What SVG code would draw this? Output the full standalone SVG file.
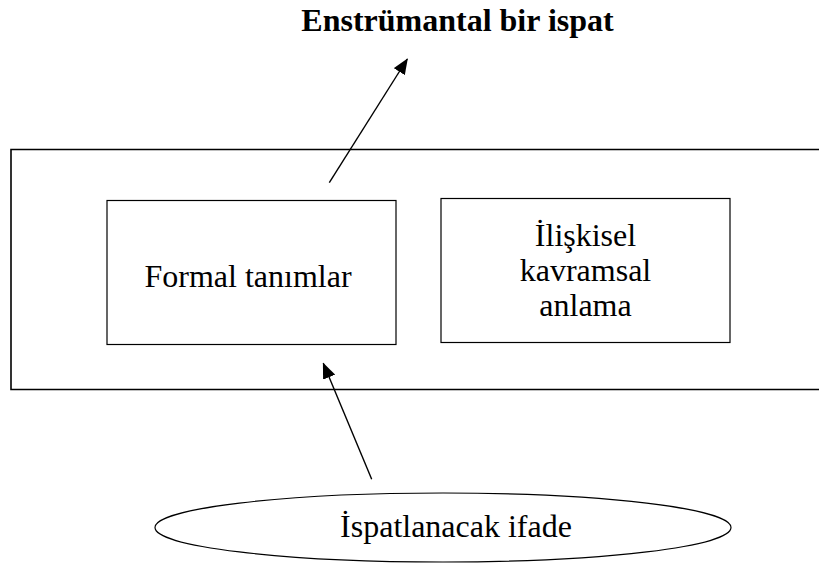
<svg xmlns="http://www.w3.org/2000/svg" width="819" height="566" viewBox="0 0 819 566">
  <style>
    .box { fill: #ffffff; stroke: #000000; stroke-width: 1.2; }
    .outer { fill: none; stroke: #000000; stroke-width: 1.6; }
    .lbl { font-family: "Liberation Serif", "Times New Roman", serif; font-size: 32px; fill: #000000; text-anchor: middle; }
    .title { font-weight: bold; }
    .conn { stroke: #000000; stroke-width: 1.4; fill: none; marker-end: url(#arrow); }
  </style>
  <defs>
    <marker id="arrow" markerUnits="userSpaceOnUse" markerWidth="16" markerHeight="13" viewBox="0 0 16 13" refX="15" refY="6.5" orient="auto">
      <path d="M0,0 L16,6.5 L0,13 z" fill="#000000"/>
    </marker>
  </defs>
  <rect width="819" height="566" fill="#ffffff"/>

  <g id="title">
    <text class="lbl title" x="457.5" y="31">Enstrümantal bir ispat</text>
  </g>

  <g id="container">
    <path class="outer" d="M830,149.5 H11 V389.5 H830"/>
  </g>

  <g id="formal">
    <rect class="box" x="107" y="200.5" width="289" height="144"/>
    <text class="lbl" x="248" y="286.5">Formal tanımlar</text>
  </g>

  <g id="iliskisel">
    <rect class="box" x="441" y="198.5" width="289" height="144"/>
    <text class="lbl" x="585.5" y="246">İlişkisel</text>
    <text class="lbl" x="585.5" y="281">kavramsal</text>
    <text class="lbl" x="585.5" y="316">anlama</text>
  </g>

  <g id="ifade">
    <ellipse class="box" cx="443" cy="527.5" rx="288" ry="34.5"/>
    <text class="lbl" x="456" y="536.5">İspatlanacak ifade</text>
  </g>

  <g id="connectors">
    <line class="conn" x1="329.3" y1="182.7" x2="407.3" y2="59"/>
    <line class="conn" x1="371.7" y1="479.3" x2="323.3" y2="363.3"/>
  </g>
</svg>
